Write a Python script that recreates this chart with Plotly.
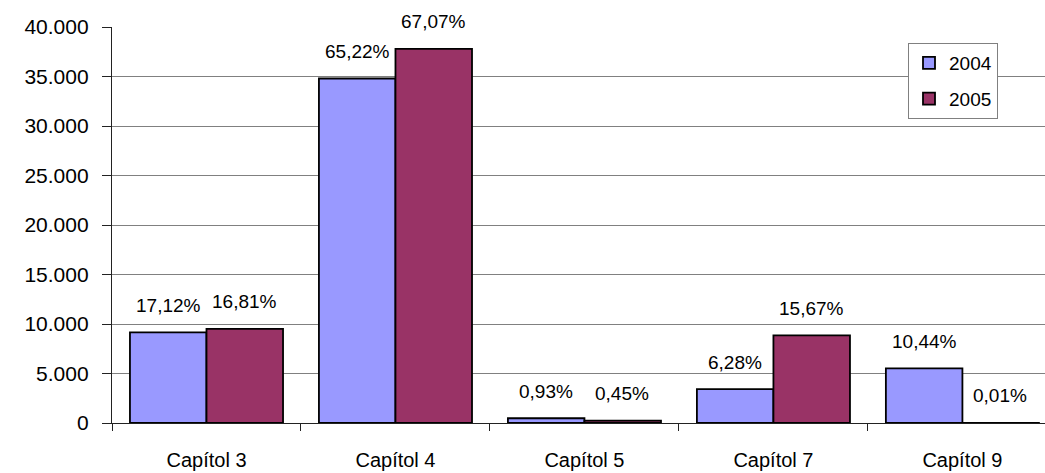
import plotly.graph_objects as go

categories = ["Capítol 3", "Capítol 4", "Capítol 5", "Capítol 7", "Capítol 9"]
values_2004 = [9150, 34800, 480, 3420, 5520]
values_2005 = [9500, 37800, 250, 8850, 6]
labels_2004 = ["17,12%", "65,22%", "0,93%", "6,28%", "10,44%"]
labels_2005 = ["16,81%", "67,07%", "0,45%", "15,67%", "0,01%"]
y_ticks = [0, 5000, 10000, 15000, 20000, 25000, 30000, 35000, 40000]
y_tick_labels = ["0", "5.000", "10.000", "15.000", "20.000", "25.000", "30.000", "35.000", "40.000"]

FONT = "Liberation Sans, Arial, sans-serif"

fig = go.Figure()
fig.add_trace(go.Bar(
    name="2004", x=categories, y=values_2004,
    marker=dict(color="#9999FF", line=dict(color="#000000", width=1.8)),
    legendgroup="a",
))
fig.add_trace(go.Bar(
    name="2005", x=categories, y=values_2005,
    marker=dict(color="#993366", line=dict(color="#000000", width=1.8)),
    legendgroup="b",
))

annotations = []
for cat, v, t in zip(categories, values_2004, labels_2004):
    annotations.append(dict(x=cat, y=v, text=t, xref="x", yref="y", showarrow=False,
                            xshift=-38, yshift=27, yanchor="middle",
                            font=dict(family=FONT, size=19, color="#000000")))
for cat, v, t in zip(categories, values_2005, labels_2005):
    annotations.append(dict(x=cat, y=v, text=t, xref="x", yref="y", showarrow=False,
                            xshift=38, yshift=27, yanchor="middle",
                            font=dict(family=FONT, size=19, color="#000000")))

fig.update_layout(
    width=1045, height=473, autosize=False,
    margin=dict(l=112, r=0, t=27, b=50),
    paper_bgcolor="white", plot_bgcolor="white",
    barmode="group", bargap=0.19, bargroupgap=0,
    font=dict(family=FONT, color="#000000"),
    showlegend=True,
    annotations=annotations,
    legend=dict(
        x=(908 - 112) / (1045 - 112), y=(423 - 43) / (423 - 27),
        xanchor="left", yanchor="top",
        bgcolor="white", bordercolor="#808080", borderwidth=1,
        font=dict(family=FONT, size=19, color="#000000"),
        tracegroupgap=8,
    ),
)
fig.update_xaxes(
    range=[-0.5, 4.437],
    automargin=False,
    showline=True, linecolor="#222222", linewidth=1.3,
    ticks="outside", ticklen=7, tickcolor="#222222", tickwidth=1.3,
    tickson="boundaries", ticklabelstandoff=19,
    showgrid=False,
    tickfont=dict(family=FONT, size=20, color="#000000"),
    fixedrange=True,
)
fig.update_yaxes(
    range=[0, 40000],
    automargin=False,
    tickvals=y_ticks, ticktext=y_tick_labels,
    showline=True, linecolor="#222222", linewidth=1.3,
    ticks="outside", ticklen=9, tickcolor="#222222", tickwidth=1.3,
    ticklabelstandoff=9,
    showgrid=True, gridcolor="#808080", gridwidth=1.2,
    zeroline=False,
    tickfont=dict(family=FONT, size=21, color="#000000"),
    fixedrange=True,
)

fig.write_html(
    "out.html",
    config={"displayModeBar": False},
    post_script="document.body.style.margin='0';document.body.style.overflow='hidden';",
)
